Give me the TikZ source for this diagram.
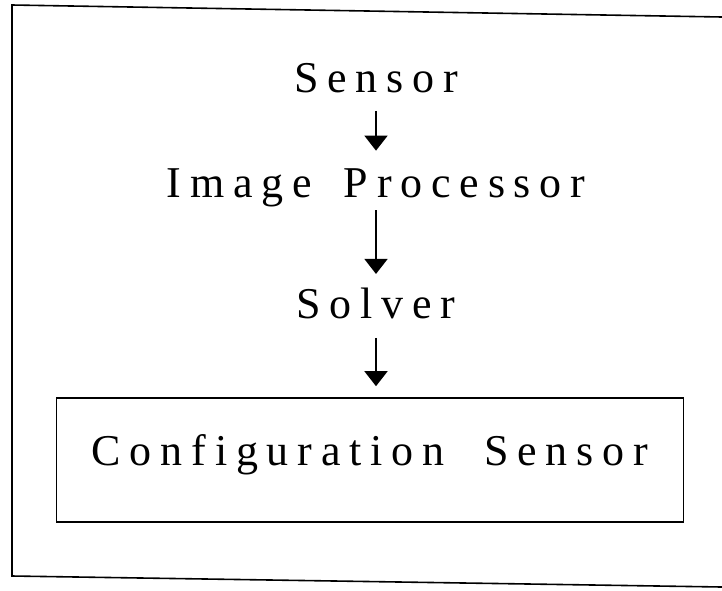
\documentclass[tikz,border=0pt]{standalone}
\usepackage{fontspec}
\setmainfont{Liberation Serif}
\newfontfamily\spaced[LetterSpace=20]{Liberation Serif}
\usetikzlibrary{arrows.meta}
\tikzset{> = {Triangle[length=15pt, width=23pt]}}
\begin{document}
\begin{tikzpicture}[x=1pt, y=1pt, font=\fontsize{44}{50}\selectfont\spaced]
\useasboundingbox (0,0) rectangle (722,-590);
% frame (open on the right)
\draw[line width=1.6pt] (722,-17) -- (12,-5) -- (12,-576) -- (722,-587);
% nodes
\node[anchor=base] (S) at (376,-92) {Sensor};
\node[anchor=base] (IP) at (376,-197) {Image\hspace{32pt}Processor};
\node[anchor=base] (SV) at (376,-318) {Solver};
\node[draw, line width=1.6pt, minimum width=627pt, minimum height=124pt, text depth=19.5pt] (CS) at (370,-460) {Configuration\hspace{40pt}Sensor};
\coordinate (CStop) at (SV.south |- CS.north);
% edges
\draw[->, line width=1.6pt]
(S) edge [shorten <=15pt, shorten >=14pt] (IP)
(IP) edge [shorten >=10pt] (SV)
(SV) edge [shorten <=16pt, shorten >=11pt] (CStop);
\end{tikzpicture}
\end{document}
